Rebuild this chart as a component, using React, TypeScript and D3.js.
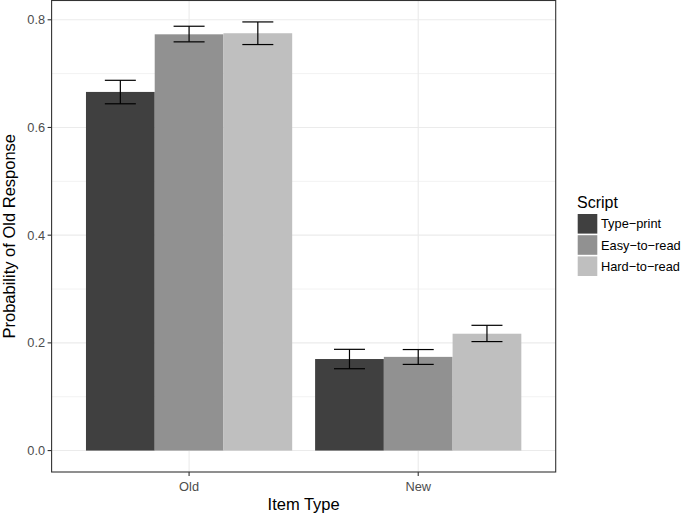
import React from "react";
import * as d3 from "d3";

const itemTypes = ["Old", "New"];
const scripts = ["Type\u2212print", "Easy\u2212to\u2212read", "Hard\u2212to\u2212read"];
const fills = ["#404040", "#919191", "#bfbfbf"];
// mean, lower, upper per item type, per script
const means = [
  [0.666, 0.773, 0.775],
  [0.170, 0.174, 0.217],
];
const lowers = [
  [0.644, 0.759, 0.754],
  [0.152, 0.160, 0.2024],
];
const uppers = [
  [0.6876, 0.788, 0.796],
  [0.188, 0.1876, 0.2326],
];
const yTicks = [0, 0.2, 0.4, 0.6, 0.8];
const yMinor = [0.1, 0.3, 0.5, 0.7];

const W = 685;
const H = 515;
const panel = { left: 51.6, right: 555.7, top: 0.5, bottom: 472 };
const FONT = "'Liberation Sans', Arial, Helvetica, sans-serif";

export default function App() {
  const x = d3
    .scalePoint<string>()
    .domain(itemTypes)
    .range([panel.left, panel.right])
    .padding(0.6);
  const unit = x.step();
  const dataMax = d3.max(uppers.flat()) as number;
  const ext = dataMax * 0.05;
  const y = d3
    .scaleLinear()
    .domain([-ext, dataMax + ext])
    .range([panel.bottom, panel.top]);
  const groupW = unit * 0.9;
  const barW = groupW / scripts.length;
  const errW = 31;

  return (
    <svg
      width={W}
      height={H}
      style={{ position: "fixed", left: 0, top: 0, background: "#fff" }}
      fontFamily={FONT}
    >
      <rect x={0} y={0} width={W} height={H} fill="#fff" />
      {/* grid */}
      {yMinor.map((t) => (
        <line key={"mn" + t} x1={panel.left} x2={panel.right} y1={y(t)} y2={y(t)} stroke="#f2f2f2" strokeWidth={1} />
      ))}
      {yTicks.map((t) => (
        <line key={"mj" + t} x1={panel.left} x2={panel.right} y1={y(t)} y2={y(t)} stroke="#ebebeb" strokeWidth={1.1} />
      ))}
      {itemTypes.map((c) => (
        <line key={"vx" + c} x1={x(c)} x2={x(c)} y1={panel.top} y2={panel.bottom} stroke="#ebebeb" strokeWidth={1.1} />
      ))}
      {/* bars */}
      {itemTypes.map((c, i) =>
        scripts.map((s, j) => {
          const bx = (x(c) as number) - groupW / 2 + j * barW;
          return (
            <rect
              key={c + s}
              x={bx}
              y={y(means[i][j])}
              width={barW}
              height={y(0) - y(means[i][j])}
              fill={fills[j]}
            />
          );
        })
      )}
      {/* error bars */}
      {itemTypes.map((c, i) =>
        scripts.map((s, j) => {
          const cx = (x(c) as number) - groupW / 2 + (j + 0.5) * barW;
          return (
            <g key={"e" + c + s} stroke="#000" strokeWidth={1.2}>
              <line x1={cx} x2={cx} y1={y(lowers[i][j])} y2={y(uppers[i][j])} />
              <line x1={cx - errW / 2} x2={cx + errW / 2} y1={y(lowers[i][j])} y2={y(lowers[i][j])} />
              <line x1={cx - errW / 2} x2={cx + errW / 2} y1={y(uppers[i][j])} y2={y(uppers[i][j])} />
            </g>
          );
        })
      )}
      {/* panel border */}
      <rect
        x={panel.left}
        y={panel.top}
        width={panel.right - panel.left}
        height={panel.bottom - panel.top}
        fill="none"
        stroke="#333"
        strokeWidth={1.1}
      />
      {/* y axis ticks */}
      {yTicks.map((t) => (
        <g key={"yt" + t}>
          <line x1={panel.left - 4} x2={panel.left} y1={y(t)} y2={y(t)} stroke="#333" strokeWidth={1.1} />
          <text x={panel.left - 6.5} y={y(t) + 4.5} textAnchor="end" fontSize={12.8} fill="#4d4d4d">
            {d3.format(".1f")(t)}
          </text>
        </g>
      ))}
      {/* x axis ticks */}
      {itemTypes.map((c) => (
        <g key={"xt" + c}>
          <line x1={x(c)} x2={x(c)} y1={panel.bottom} y2={panel.bottom + 4} stroke="#333" strokeWidth={1.1} />
          <text x={x(c)} y={490.5} textAnchor="middle" fontSize={12.8} fill="#4d4d4d">
            {c}
          </text>
        </g>
      ))}
      {/* axis titles */}
      <text x={(panel.left + panel.right) / 2} y={510} textAnchor="middle" fontSize={16.5} fill="#000">
        Item Type
      </text>
      <text
        transform={`translate(15,${(panel.top + panel.bottom) / 2}) rotate(-90)`}
        textAnchor="middle"
        fontSize={16.5}
        fill="#000"
      >
        Probability of Old Response
      </text>
      {/* legend */}
      <text x={577} y={208.3} fontSize={16} fill="#000">
        Script
      </text>
      {scripts.map((s, j) => {
        const ky = 214 + j * 21.2;
        return (
          <g key={"lg" + s}>
            <rect x={577.7} y={ky} width={19.6} height={19.6} fill={fills[j]} />
            <text x={601} y={ky + 14.3} fontSize={12.8} fill="#000">
              {s}
            </text>
          </g>
        );
      })}
    </svg>
  );
}
